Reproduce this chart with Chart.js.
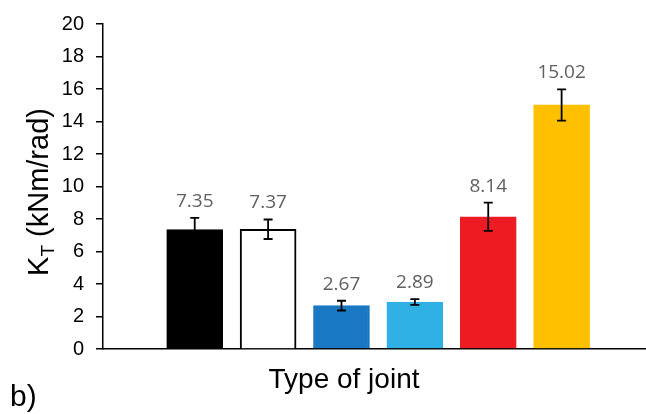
<!DOCTYPE html>
<html>
<head>
<meta charset="utf-8">
<script src="https://cdn.jsdelivr.net/npm/chart.js@4.4.0/dist/chart.umd.min.js"></script>
<style>
  html, body { margin: 0; padding: 0; background: #fff; overflow: hidden; }
  canvas { display: block; }
</style>
</head>
<body>
<canvas id="bar-chart" width="646" height="414"></canvas>
<script>
// joint types, in the order of the bars
const joints = [1, 2, 3, 4, 5, 6];
const stiffness = [7.35, 7.37, 2.67, 2.89, 8.14, 15.02];
const errors = [0.72, 0.6, 0.3, 0.18, 0.87, 0.96];
const barColors = ["#000000", "#ffffff", "#1a78c2", "#2fb1e6", "#ed1c24", "#ffc000"];
const borderColors = ["#000000", "#000000", "#1a78c2", "#2fb1e6", "#ed1c24", "#ffc000"];
const yTicks = [0, 2, 4, 6, 8, 10, 12, 14, 16, 18, 20];

const extras = {
  id: "extras",
  afterDatasetsDraw(chart) {
    const ctx = chart.ctx;
    const x = chart.scales.x, y = chart.scales.y;
    ctx.save();
    // error bars
    ctx.strokeStyle = "#000";
    ctx.lineWidth = 1.8;
    joints.forEach((j, i) => {
      const px = x.getPixelForValue(j);
      const top = y.getPixelForValue(stiffness[i] + errors[i]);
      const bot = y.getPixelForValue(stiffness[i] - errors[i]);
      ctx.beginPath();
      ctx.moveTo(px, top); ctx.lineTo(px, bot);
      ctx.moveTo(px - 4.5, top); ctx.lineTo(px + 4.5, top);
      ctx.moveTo(px - 4.5, bot); ctx.lineTo(px + 4.5, bot);
      ctx.stroke();
      // value label
      ctx.fillStyle = "#606060";
      ctx.font = "19px 'Open Sans'";
      ctx.textAlign = "center";
      ctx.textBaseline = "alphabetic";
      ctx.fillText(stiffness[i].toFixed(2), px, top - 11);
    });
    // axis titles
    ctx.fillStyle = "#000";
    ctx.font = "28px 'Liberation Sans'";
    ctx.textAlign = "center";
    ctx.fillText("Type of joint", 344, 388);
    ctx.textAlign = "left";
    ctx.font = "30px 'Liberation Sans'";
    ctx.fillText("b)", 10, 406);

    ctx.translate(48, 192);
    ctx.rotate(-Math.PI / 2);
    const big = "29px 'Liberation Sans'", small = "19px 'Liberation Sans'";
    ctx.font = big; const wK = ctx.measureText("K").width;
    const wRest = ctx.measureText(" (kNm/rad)").width;
    ctx.font = small; const wT = ctx.measureText("T").width;
    let sx = -(wK + wT + wRest) / 2;
    ctx.font = big; ctx.fillText("K", sx, 0); sx += wK;
    ctx.font = small; ctx.fillText("T", sx, 6); sx += wT;
    ctx.font = big; ctx.fillText(" (kNm/rad)", sx, 0);
    ctx.restore();
  }
};

new Chart(document.getElementById("bar-chart"), {
  type: "bar",
  data: {
    datasets: [{
      data: joints.map((j, i) => ({ x: j, y: stiffness[i] })),
      backgroundColor: barColors,
      borderColor: borderColors,
      borderWidth: 2,
      barThickness: 56
    }]
  },
  options: {
    responsive: false,
    animation: false,
    layout: { padding: { top: 14, right: 0, bottom: 0, left: 0 } },
    plugins: { legend: { display: false }, tooltip: { enabled: false } },
    scales: {
      x: {
        type: "linear",
        offset: false,
        min: -0.25,
        max: 7.15,
        ticks: { display: false },
        grid: { display: false },
        border: { color: "#000", width: 1.5 },
        afterFit(s) { s.height = 65; }
      },
      y: {
        min: 0,
        max: 20,
        afterBuildTicks(s) { s.ticks = yTicks.map(v => ({ value: v })); },
        ticks: { color: "#000", padding: 12, font: { family: "'Liberation Sans'", size: 20 } },
        grid: { drawOnChartArea: false, tickLength: 7, color: "#000", lineWidth: 1.5 },
        border: { color: "#000", width: 1.5 },
        afterFit(s) { s.width = 103; }
      }
    }
  },
  plugins: [extras]
});
</script>
</body>
</html>
